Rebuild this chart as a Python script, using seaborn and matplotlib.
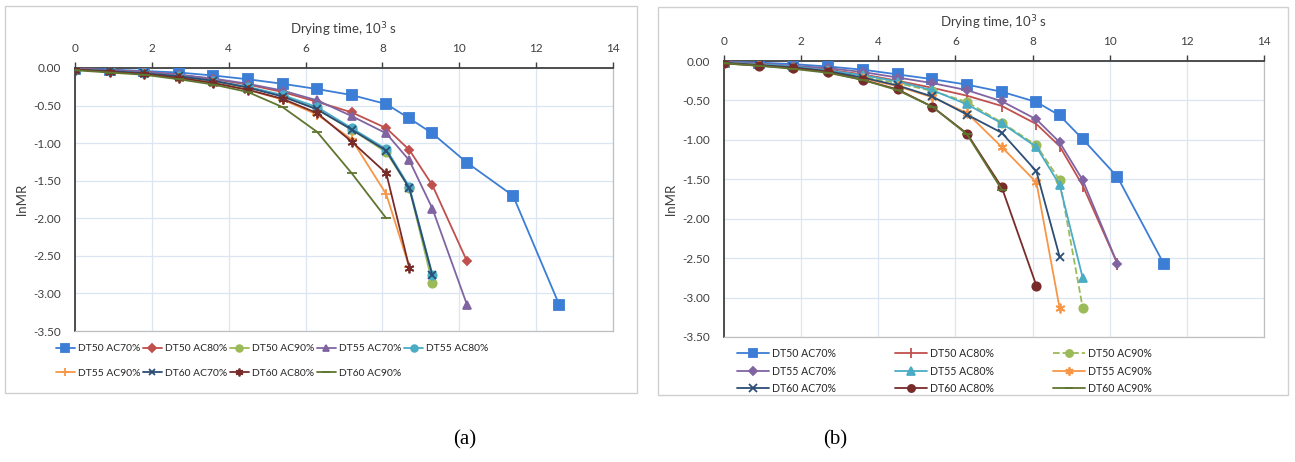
import numpy as np
import pandas as pd
import matplotlib
matplotlib.use("Agg")
import matplotlib.pyplot as plt
from matplotlib.patches import Rectangle
import seaborn as sns

# ---------------- data ----------------
time = [0, 0.9, 1.8, 2.7, 3.6, 4.5, 5.4, 6.3, 7.2, 8.1, 8.7, 9.3, 10.2, 11.4, 12.6]
labels = ["DT50 AC70%", "DT50 AC80%", "DT50 AC90%",
          "DT55 AC70%", "DT55 AC80%", "DT55 AC90%",
          "DT60 AC70%", "DT60 AC80%", "DT60 AC90%"]

a_dt50_ac70 = [-0.01, -0.02, -0.04, -0.06, -0.10, -0.15, -0.21, -0.28, -0.36, -0.48, -0.67, -0.87, -1.26, -1.70, -3.15]
a_dt50_ac80 = [-0.01, -0.03, -0.05, -0.09, -0.15, -0.22, -0.32, -0.45, -0.59, -0.80, -1.09, -1.56, -2.57]
a_dt50_ac90 = [-0.02, -0.04, -0.07, -0.12, -0.18, -0.26, -0.37, -0.55, -0.82, -1.12, -1.60, -2.86]
a_dt55_ac70 = [-0.01, -0.03, -0.05, -0.09, -0.14, -0.21, -0.30, -0.43, -0.64, -0.87, -1.23, -1.87, -3.15]
a_dt55_ac80 = [-0.02, -0.04, -0.07, -0.11, -0.17, -0.25, -0.36, -0.52, -0.80, -1.08, -1.58, -2.75]
a_dt55_ac90 = [-0.02, -0.05, -0.08, -0.13, -0.20, -0.29, -0.42, -0.62, -0.95, -1.68, -2.65]
a_dt60_ac70 = [-0.02, -0.04, -0.07, -0.11, -0.17, -0.26, -0.38, -0.55, -0.82, -1.10, -1.60, -2.76]
a_dt60_ac80 = [-0.02, -0.05, -0.08, -0.13, -0.20, -0.29, -0.41, -0.60, -0.98, -1.40, -2.66]
a_dt60_ac90 = [-0.03, -0.06, -0.09, -0.15, -0.22, -0.32, -0.52, -0.85, -1.40, -2.00]

b_dt50_ac70 = [-0.01, -0.02, -0.04, -0.07, -0.11, -0.17, -0.23, -0.30, -0.39, -0.52, -0.69, -0.99, -1.47, -2.57]
b_dt50_ac80 = [-0.02, -0.04, -0.07, -0.11, -0.17, -0.25, -0.34, -0.44, -0.57, -0.80, -1.08, -1.58, -2.57]
b_dt50_ac90 = [-0.02, -0.05, -0.08, -0.13, -0.20, -0.28, -0.38, -0.52, -0.78, -1.07, -1.51, -3.13]
b_dt55_ac70 = [-0.01, -0.03, -0.06, -0.09, -0.14, -0.21, -0.28, -0.37, -0.51, -0.74, -1.03, -1.51, -2.57]
b_dt55_ac80 = [-0.02, -0.04, -0.07, -0.12, -0.18, -0.26, -0.37, -0.55, -0.79, -1.09, -1.57, -2.75]
b_dt55_ac90 = [-0.02, -0.05, -0.09, -0.14, -0.22, -0.32, -0.46, -0.66, -1.09, -1.54, -3.13]
b_dt60_ac70 = [-0.02, -0.05, -0.08, -0.13, -0.21, -0.31, -0.45, -0.68, -0.91, -1.40, -2.48]
b_dt60_ac80 = [-0.03, -0.06, -0.09, -0.14, -0.24, -0.36, -0.58, -0.92, -1.60, -2.85]
b_dt60_ac90 = [-0.03, -0.06, -0.10, -0.15, -0.24, -0.37, -0.58, -0.93, -1.63]

x_ticks = [0, 2, 4, 6, 8, 10, 12, 14]
y_ticks = [0.0, -0.5, -1.0, -1.5, -2.0, -2.5, -3.0, -3.5]

# ---------------- styles ----------------
colors = ["#3C7DD6", "#C0504D", "#9BBB59", "#8064A2", "#4BACC6",
          "#F79646", "#2C4D75", "#772C2A", "#5F7530"]
markers_a = ["s", "D", "o", "^", "o", "+", "x", (6, 2, 0), "_"]
markers_b = ["s", "|", "o", "D", "^", (6, 2, 0), "x", "o", "_"]
sizes_a = [6.5, 4.5, 6, 6, 6, 7, 6, 7, 7]
sizes_b = [6.5, 8, 6, 4.5, 6, 7, 6, 6, 7]
styles_b = ["-", "-", "--", "-", "-", "-", "-", "-", "-"]

series_a = [a_dt50_ac70, a_dt50_ac80, a_dt50_ac90, a_dt55_ac70, a_dt55_ac80,
            a_dt55_ac90, a_dt60_ac70, a_dt60_ac80, a_dt60_ac90]
series_b = [b_dt50_ac70, b_dt50_ac80, b_dt50_ac90, b_dt55_ac70, b_dt55_ac80,
            b_dt55_ac90, b_dt60_ac70, b_dt60_ac80, b_dt60_ac90]

sns.set_theme(style="white")
plt.rcParams["font.family"] = ["Lato", "DejaVu Sans"]

W, H = 1295, 462
fig = plt.figure(figsize=(W / 100, H / 100), dpi=100)

def fx(p):
    return p / W

def fy(p):
    return 1 - p / H

# outer chart boxes
for (x0, y0, x1, y1) in [(5, 6, 637, 393), (658, 7, 1288, 395)]:
    fig.add_artist(Rectangle((fx(x0), fy(y1)), fx(x1 - x0), (y1 - y0) / H,
                             transform=fig.transFigure, fill=False,
                             edgecolor="#D0D0D0", linewidth=1.0))

axA = fig.add_axes([fx(75), fy(331), fx(613 - 75), (331 - 68) / H])
axB = fig.add_axes([fx(724), fy(337), fx(1264 - 724), (337 - 61) / H])

def draw(ax, series, markers, sizes, lstyles):
    for i, (lab, vals) in enumerate(zip(labels, series)):
        df = pd.DataFrame({"t": time[:len(vals)], "v": vals})
        c = colors[i]
        sns.lineplot(data=df, x="t", y="v", ax=ax, color=c, label=lab,
                     marker=markers[i], markersize=sizes[i], markeredgecolor=c,
                     markerfacecolor=c, markeredgewidth=1.3, linewidth=1.3,
                     linestyle=lstyles[i], errorbar=None, sort=False,
                     zorder=3 + i * 0.01)

def style_axes(ax):
    ax.set_xlim(0, 14)
    ax.set_ylim(-3.5, 0)
    ax.set_xticks(x_ticks)
    ax.set_xticklabels([str(v) for v in x_ticks])
    ax.set_yticks(y_ticks)
    ax.set_yticklabels([f"{v:.2f}" for v in y_ticks])
    ax.xaxis.set_ticks_position("top")
    ax.xaxis.set_label_position("top")
    ax.set_xlabel("Drying time, 10$^3$ s", fontsize=9.5, color="#404040", labelpad=6)
    ax.set_ylabel("lnMR", fontsize=9.5, color="#404040", labelpad=4)
    ax.tick_params(axis="both", labelsize=8.5, colors="#404040", length=4,
                   width=1, direction="out", pad=6)
    ax.grid(True, color="#DCE6F2", linewidth=0.9)
    ax.set_axisbelow(True)
    for s in ["top", "left"]:
        ax.spines[s].set_color("#404040")
        ax.spines[s].set_linewidth(1.3)
    for s in ["right", "bottom"]:
        ax.spines[s].set_color("#BFBFBF")
        ax.spines[s].set_linewidth(0.9)

draw(axA, series_a, markers_a, sizes_a, ["-"] * 9)
draw(axB, series_b, markers_b, sizes_b, styles_b)
style_axes(axA)
style_axes(axB)

# legends (matplotlib fills columns first, so reorder to read row-wise)
hA, lA = axA.get_legend_handles_labels()
orderA = [0, 5, 1, 6, 2, 7, 3, 8, 4]
axA.legend([hA[i] for i in orderA], [lA[i] for i in orderA], ncol=5,
           loc="upper left", bbox_to_anchor=(fx(56), fy(344)),
           bbox_transform=fig.transFigure, frameon=False, fontsize=7.4,
           handlelength=1.8, handletextpad=0.3, columnspacing=0.3,
           labelspacing=1.5, borderaxespad=0, borderpad=0, markerscale=0.8)

hB, lB = axB.get_legend_handles_labels()
orderB = [0, 3, 6, 1, 4, 7, 2, 5, 8]
axB.legend([hB[i] for i in orderB], [lB[i] for i in orderB], ncol=3,
           loc="upper left", bbox_to_anchor=(fx(737), fy(348)),
           bbox_transform=fig.transFigure, frameon=False, fontsize=7.6,
           handlelength=3.0, handletextpad=0.3, columnspacing=5.6,
           labelspacing=0.62, borderaxespad=0, borderpad=0, markerscale=0.85)

fig.text(fx(465), fy(440), "(a)", fontsize=15, family="Liberation Serif",
         ha="center", va="center", color="black")
fig.text(fx(835), fy(440), "(b)", fontsize=15, family="Liberation Serif",
         ha="center", va="center", color="black")

fig.savefig("out.png", dpi=100, facecolor="white")
